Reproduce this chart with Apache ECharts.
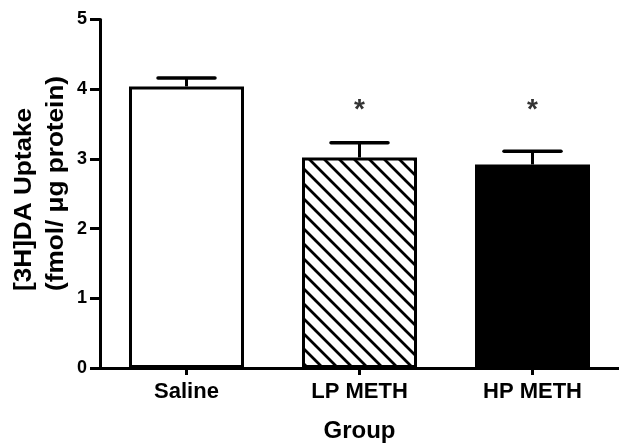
<!DOCTYPE html>
<html>
<head>
<meta charset="utf-8">
<script src="https://cdn.jsdelivr.net/npm/echarts@6/dist/echarts.min.js"></script>
<style>html,body{margin:0;padding:0;background:#fff;}#c{width:619px;height:448px;}</style>
</head>
<body>
<div id="c"></div>
<script>
var categories = ['Saline', 'LP METH', 'HP METH'];
var means = [4.04, 3.02, 2.92];
var sems = [0.12, 0.21, 0.19];
var sigMarks = ['', '*', '*'];
var sigLevel = [null, 3.77, 3.77];
var yTicks = [0, 1, 2, 3, 4, 5];

var FONT = '"Liberation Sans", Arial, Helvetica, sans-serif';

function hatchCanvas() {
  var s = 15;
  var c = document.createElement('canvas');
  c.width = s; c.height = s;
  var g = c.getContext('2d');
  g.fillStyle = '#fff';
  g.fillRect(0, 0, s, s);
  g.strokeStyle = '#000';
  g.lineWidth = 2.8;
  g.beginPath();
  g.moveTo(-3, -3); g.lineTo(s + 3, s + 3);
  g.moveTo(-3, s - 3); g.lineTo(3, s + 3);
  g.moveTo(s - 3, -3); g.lineTo(s + 3, 3);
  g.stroke();
  return c;
}

var fills = ['#ffffff', { image: hatchCanvas(), repeat: 'repeat' }, '#000000'];

var chart = echarts.init(document.getElementById('c'), null, { renderer: 'canvas' });

var barData = means.map(function (m, i) {
  return { value: m, itemStyle: { color: fills[i] } };
});
var errData = means.map(function (m, i) { return [i, m, sems[i]]; });
var sigData = sigLevel.map(function (v, i) { return v == null ? null : { value: [i, v], label: { formatter: sigMarks[i] } }; }).filter(function (d) { return d; });

chart.setOption({
  animation: false,
  backgroundColor: '#fff',
  grid: { left: 100, right: -6, top: 19.5, bottom: 78.5, containLabel: false },
  xAxis: {
    type: 'category',
    data: categories,
    name: 'Group',
    nameLocation: 'middle',
    nameGap: 51,
    nameTextStyle: { fontFamily: FONT, fontWeight: 'bold', fontSize: 24, color: '#000' },
    axisLine: { lineStyle: { color: '#000', width: 3 } },
    axisTick: { show: true, alignWithLabel: true, length: 7, lineStyle: { color: '#000', width: 3 } },
    axisLabel: { fontFamily: FONT, fontWeight: 'bold', fontSize: 22, color: '#000', margin: 13 },
    splitLine: { show: false }
  },
  yAxis: {
    type: 'value',
    min: yTicks[0],
    max: yTicks[yTicks.length - 1],
    interval: 1,
    axisLine: { show: true, lineStyle: { color: '#000', width: 3 } },
    axisTick: { show: true, length: 10, lineStyle: { color: '#000', width: 3 } },
    axisLabel: { fontFamily: FONT, fontWeight: 'bold', fontSize: 18, color: '#000', margin: 13 },
    splitLine: { show: false }
  },
  graphic: [{
    type: 'text',
    x: 40,
    y: 291,
    rotation: Math.PI / 2,
    scaleX: 1.09,
    style: {
      text: '[3H]DA Uptake\n(fmol/ \u03bcg protein)',
      fontFamily: FONT,
      fontWeight: 'bold',
      fontSize: 24,
      lineHeight: 32,
      fill: '#000',
      align: 'left',
      verticalAlign: 'middle'
    }
  }],
  series: [{
    type: 'bar',
    data: barData,
    barWidth: 115,
    itemStyle: { borderColor: '#000', borderWidth: 3 },
    z: 2
  }, {
    type: 'custom',
    data: errData,
    z: 3,
    renderItem: function (params, api) {
      var base = api.coord([api.value(0), api.value(1)]);
      var top = api.coord([api.value(0), api.value(1) + api.value(2)]);
      var half = 28.5;
      return {
        type: 'group',
        children: [{
          type: 'line',
          shape: { x1: base[0], y1: base[1], x2: top[0], y2: top[1] },
          style: { stroke: '#000', lineWidth: 3 }
        }, {
          type: 'line',
          shape: { x1: top[0] - half, y1: top[1], x2: top[0] + half, y2: top[1] },
          style: { stroke: '#000', lineWidth: 3.5, lineCap: 'round' }
        }]
      };
    }
  }, {
    type: 'scatter',
    data: sigData,
    symbolSize: 0,
    z: 4,
    label: {
      show: true,
      position: 'inside',
      fontFamily: FONT,
      fontWeight: 'bold',
      fontSize: 28,
      color: '#000',
      offset: [0, 5]
    }
  }]
});
</script>
</body>
</html>
